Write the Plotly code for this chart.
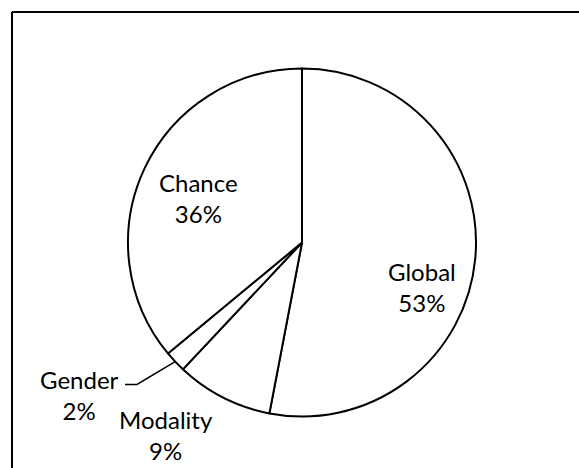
import math
import plotly.graph_objects as go

labels = ["Global", "Modality", "Gender", "Chance"]
values = [53, 9, 2, 36]

W, H = 579, 468
# pie geometry in pixels
cx, cy, r = 302, 242.5, 174

# label anchor positions (pixel centers)
label_pos = {
    "Global": (422, 287),
    "Modality": (166, 435),
    "Gender": (79, 395),
    "Chance": (198, 198),
}

FONT = "Lato, Calibri, Carlito, sans-serif"
FS = 24

def px(x):
    return x / W

def py(y):
    return 1 - y / H

fig = go.Figure(go.Pie(
    labels=labels,
    values=values,
    sort=False,
    direction="clockwise",
    rotation=0,
    textinfo="none",
    hoverinfo="skip",
    marker=dict(colors=["white"] * len(values), line=dict(color="black", width=2)),
    domain=dict(x=[px(cx - r), px(cx + r)], y=[py(cy + r), py(cy - r)]),
    showlegend=False,
))

total = sum(values)
annotations = []
for lab, val in zip(labels, values):
    x, y = label_pos[lab]
    annotations.append(dict(
        x=px(x), y=py(y), xref="paper", yref="paper",
        text=f"{lab}<br>{round(100 * val / total)}%",
        showarrow=False, xanchor="center", yanchor="middle",
        font=dict(family=FONT, size=FS, color="black"),
    ))

# leader line for Gender: from label to middle of its slice on the arc
cum = 0
for lab, val in zip(labels, values):
    if lab == "Gender":
        mid = (cum + val / 2) / total * 2 * math.pi
        break
    cum += val
ex = cx + r * math.sin(mid)
ey = cy - r * math.cos(mid)
lx0, ly = 125, 384.5
lx1 = 137
shapes = [
    dict(type="path", xref="paper", yref="paper",
         path=f"M {px(lx0)},{py(ly)} L {px(lx1)},{py(ly)} L {px(ex)},{py(ey)}",
         line=dict(color="black", width=1.5)),
    # chart frame (left and top edges visible)
    dict(type="line", xref="paper", yref="paper", x0=px(12), y0=py(12), x1=px(12), y1=py(H + 5),
         line=dict(color="black", width=2)),
    dict(type="line", xref="paper", yref="paper", x0=px(12), y0=py(12), x1=px(W + 5), y1=py(12),
         line=dict(color="black", width=2)),
]

fig.update_layout(
    width=W, height=H,
    margin=dict(l=0, r=0, t=0, b=0),
    paper_bgcolor="white",
    plot_bgcolor="white",
    annotations=annotations,
    shapes=shapes,
)

fig.write_html(
    "out.html",
    config={"displayModeBar": False},
    post_script="document.body.style.margin='0';document.body.style.overflow='hidden';",
)
